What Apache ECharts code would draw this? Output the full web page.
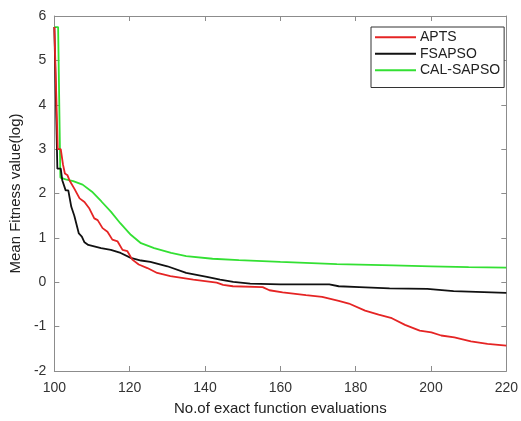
<!DOCTYPE html>
<html>
<head>
<meta charset="utf-8">
<script src="https://cdn.jsdelivr.net/npm/echarts@6/dist/echarts.min.js"></script>
<style>
  html, body { margin: 0; padding: 0; background: #fff; }
  #main { width: 521px; height: 421px; }
</style>
</head>
<body>
<div id="main"></div>
<script>
// values (x = no. of evaluations, y = log fitness)
const seriesNames = ['APTS', 'FSAPSO', 'CAL-SAPSO']

const aptsX = [100, 100.9, 101.7, 102.3, 102.8, 103.5, 104, 105.3, 106.7, 108, 109.3, 110.6, 111.5, 112.8, 114.1, 115.4, 116.8, 118.1, 119.4, 120.7, 122.4, 124.7, 127.3, 130.8, 136.9, 143.1, 144.8, 147.4, 155.3, 157.1, 160.6, 166.8, 171.1, 175.5, 178.2, 182.5, 186.1, 189.6, 193.1, 197, 200.1, 202.7, 206.2, 210.6, 215, 220]
const aptsY = [5.75, 3.0, 3.0, 2.65, 2.45, 2.41, 2.3, 2.11, 1.89, 1.81, 1.66, 1.44, 1.40, 1.22, 1.14, 0.96, 0.92, 0.73, 0.70, 0.51, 0.40, 0.32, 0.21, 0.14, 0.06, -0.01, -0.06, -0.09, -0.11, -0.18, -0.23, -0.29, -0.33, -0.42, -0.48, -0.64, -0.73, -0.81, -0.96, -1.09, -1.13, -1.20, -1.24, -1.33, -1.39, -1.43]

const fsapsoX = [100, 100.8, 101.7, 102.1, 102.6, 103, 103.7, 104.5, 105.3, 105.8, 106.5, 107.3, 108, 109, 112.4, 115, 117.6, 120.3, 123, 125.5, 130, 135, 140.5, 144, 147.5, 152, 160, 173, 175.5, 181, 189, 199, 206, 220]
const fsapsoY = [5.75, 2.56, 2.56, 2.3, 2.3, 2.07, 2.07, 1.7, 1.5, 1.48, 1.1, 1.03, 0.9, 0.84, 0.77, 0.73, 0.66, 0.55, 0.49, 0.46, 0.36, 0.21, 0.12, 0.06, 0.01, -0.03, -0.05, -0.05, -0.09, -0.11, -0.14, -0.15, -0.2, -0.24]

const calX = [100, 101, 101.6, 103, 105, 107.5, 110, 112.5, 115, 117.5, 120.3, 123, 126.5, 131, 135, 142, 149, 160, 175, 190, 200, 210, 220]
const calY = [5.75, 5.75, 2.36, 2.32, 2.28, 2.2, 2.04, 1.82, 1.59, 1.33, 1.07, 0.88, 0.77, 0.66, 0.59, 0.53, 0.5, 0.46, 0.41, 0.38, 0.36, 0.34, 0.33]

const colors = ['#e52424', '#111111', '#33e033']

const zip = (xs, ys) => xs.map((x, i) => [x, ys[i]])

const chart = echarts.init(document.getElementById('main'))

const font = 'Liberation Sans, Arial, sans-serif'
const axisGray = '#8c8c8c'

const xBase = {
    type: 'value',
    min: 100,
    max: 220,
    interval: 20,
    splitLine: { show: false },
    axisLine: { onZero: false, lineStyle: { color: axisGray, width: 1 } },
    axisTick: { inside: true, length: 5, lineStyle: { color: axisGray } },
}
const yBase = {
    type: 'value',
    min: -2,
    max: 6,
    interval: 1,
    splitLine: { show: false },
    axisLine: { onZero: false, lineStyle: { color: axisGray, width: 1 } },
    axisTick: { inside: true, length: 5, lineStyle: { color: axisGray } },
}

const series = [zip(aptsX, aptsY), zip(fsapsoX, fsapsoY), zip(calX, calY)].map((d, i) => ({
    name: seriesNames[i],
    type: 'line',
    data: d,
    xAxisIndex: 0,
    yAxisIndex: 0,
    showSymbol: false,
    symbol: 'none',
    lineStyle: { color: colors[i], width: 1.8 },
    itemStyle: { color: colors[i] },
    z: 10 - i
}))

const option = {
    animation: false,
    backgroundColor: '#fff',
    textStyle: { fontFamily: font },
    grid: { left: 53, right: 12, top: 16, bottom: 47, containLabel: false },
    legend: {
        data: seriesNames,
        orient: 'vertical',
        left: 371,
        top: 27,
        icon: 'rect',
        itemWidth: 41,
        itemHeight: 1.8,
        itemGap: 0,
        padding: [2, 4, 9, 4],
        borderColor: '#333',
        borderWidth: 1,
        backgroundColor: '#fff',
        textStyle: { fontFamily: font, fontSize: 14, color: '#222', lineHeight: 16.5, padding: [0, 0, 0, -1] },
        selectedMode: false
    },
    xAxis: [
        Object.assign({}, xBase, {
            position: 'bottom',
            axisLabel: { fontFamily: font, fontSize: 14, color: '#333', margin: 10 },
            name: 'No.of exact function evaluations',
            nameLocation: 'middle',
            nameGap: 30,
            nameTextStyle: { fontFamily: font, fontSize: 15, color: '#222' }
        }),
        Object.assign({}, xBase, { position: 'top', axisLabel: { show: false } })
    ],
    yAxis: [
        Object.assign({}, yBase, {
            position: 'left',
            axisLabel: { fontFamily: font, fontSize: 14, color: '#333', margin: 8 },
            name: 'Mean Fitness value(log)',
            nameLocation: 'middle',
            nameGap: 21,
            nameTextStyle: { fontFamily: font, fontSize: 15, color: '#222' }
        }),
        Object.assign({}, yBase, { position: 'right', axisLabel: { show: false } })
    ],
    series: series
}

chart.setOption(option)
</script>
</body>
</html>
